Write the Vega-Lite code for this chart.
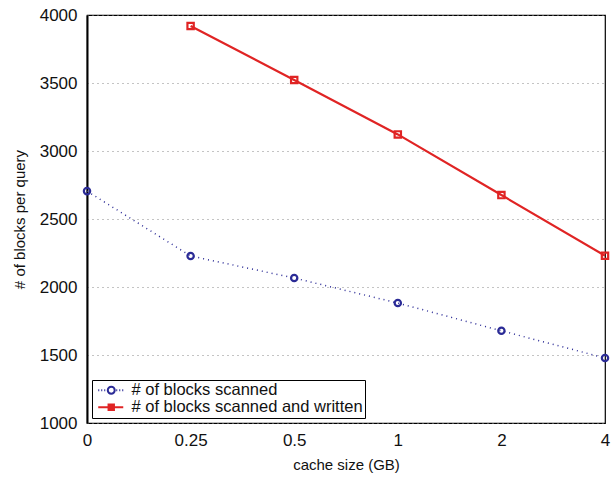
{
  "$schema": "https://vega.github.io/schema/vega-lite/v6.json",
  "width": 518,
  "height": 408,
  "autosize": {"type": "none"},
  "padding": {"left": 87, "top": 15, "right": 10, "bottom": 54},
  "background": "white",
  "config": {
    "font": "Liberation Sans",
    "view": {"stroke": "black", "strokeWidth": 1.2},
    "axis": {
      "labelFont": "Liberation Sans",
      "titleFont": "Liberation Sans",
      "labelFontSize": 17,
      "titleFontSize": 15,
      "labelColor": "#111",
      "titleColor": "#111",
      "titleFontWeight": "normal",
      "ticks": false
    }
  },
  "data": {
    "values": [
      {"cache": "0", "series": "# of blocks scanned", "blocks": 2705},
      {"cache": "0.25", "series": "# of blocks scanned", "blocks": 2228},
      {"cache": "0.5", "series": "# of blocks scanned", "blocks": 2066},
      {"cache": "1", "series": "# of blocks scanned", "blocks": 1882},
      {"cache": "2", "series": "# of blocks scanned", "blocks": 1678},
      {"cache": "4", "series": "# of blocks scanned", "blocks": 1478},
      {"cache": "0.25", "series": "# of blocks scanned and written", "blocks": 3919},
      {"cache": "0.5", "series": "# of blocks scanned and written", "blocks": 3522},
      {"cache": "1", "series": "# of blocks scanned and written", "blocks": 3122},
      {"cache": "2", "series": "# of blocks scanned and written", "blocks": 2676},
      {"cache": "4", "series": "# of blocks scanned and written", "blocks": 2230}
    ]
  },
  "encoding": {
    "x": {
      "field": "cache",
      "type": "ordinal",
      "sort": ["0", "0.25", "0.5", "1", "2", "4"],
      "scale": {"type": "point", "padding": 0},
      "title": "cache size (GB)",
      "axis": {"labelAngle": 0, "labelPadding": 9, "titlePadding": 9, "domain": false, "grid": false}
    },
    "y": {
      "field": "blocks",
      "type": "quantitative",
      "scale": {"domain": [1000, 4000], "nice": false},
      "title": "# of blocks per query",
      "axis": {
        "values": [1000, 1500, 2000, 2500, 3000, 3500, 4000],
        "format": "d",
        "labelPadding": 10,
        "titlePadding": 12,
        "domainColor": "black",
        "domainWidth": 2,
        "grid": true,
        "gridColor": "#888",
        "gridDash": [1, 4],
        "gridWidth": 1
      }
    },
    "color": {
      "field": "series",
      "type": "nominal",
      "scale": {
        "domain": ["# of blocks scanned", "# of blocks scanned and written"],
        "range": ["#2b2b96", "#e02424"]
      },
      "legend": {
        "title": null,
        "orient": "bottom-left",
        "offset": 5,
        "labelFont": "Liberation Sans",
        "labelFontSize": 16.5,
        "labelColor": "#111",
        "labelOffset": 21,
        "labelLimit": 0,
        "symbolSize": 144,
        "symbolStrokeWidth": 2,
        "rowPadding": 0,
        "padding": 2,
        "strokeColor": "black",
        "fillColor": "white",
        "encode": {
          "symbols": {
            "update": {
              "shape": {"signal": "datum.value === '# of blocks scanned' ? 'M-0.67,0h0.17M-0.17,0h0.17M0.33,0h0.17M2.33,0h0.17M2.83,0h0.17M3.33,0h0.17M0.92,0A0.58,0.58 0 1,0 2.08,0A0.58,0.58 0 1,0 0.92,0' : 'M-0.67,0H3.5M1.05,-0.45H1.95V0.45H1.05Z'"},
              "fill": {"signal": "datum.value === '# of blocks scanned' ? 'transparent' : '#e02424'"},
              "stroke": {"signal": "datum.value === '# of blocks scanned' ? '#2b2b96' : '#e02424'"},
              "strokeWidth": {"value": 2}
            }
          }
        }
      }
    }
  },
  "layer": [
    {
      "mark": {"type": "line", "strokeWidth": 1.5, "strokeDash": [1, 4], "color": "#6a6ac0"},
      "transform": [{"filter": "datum.series === '# of blocks scanned'"}]
    },
    {
      "mark": {"type": "line", "strokeWidth": 2.2},
      "transform": [{"filter": "datum.series === '# of blocks scanned and written'"}]
    },
    {
      "mark": {"type": "point", "filled": false, "strokeWidth": 2.2, "size": 40, "opacity": 1},
      "transform": [{"filter": "datum.series === '# of blocks scanned'"}],
      "encoding": {"shape": {"value": "circle"}}
    },
    {
      "mark": {"type": "point", "filled": false, "strokeWidth": 2.2, "size": 40, "opacity": 1},
      "transform": [{"filter": "datum.series === '# of blocks scanned and written'"}],
      "encoding": {"shape": {"value": "square"}}
    }
  ]
}
